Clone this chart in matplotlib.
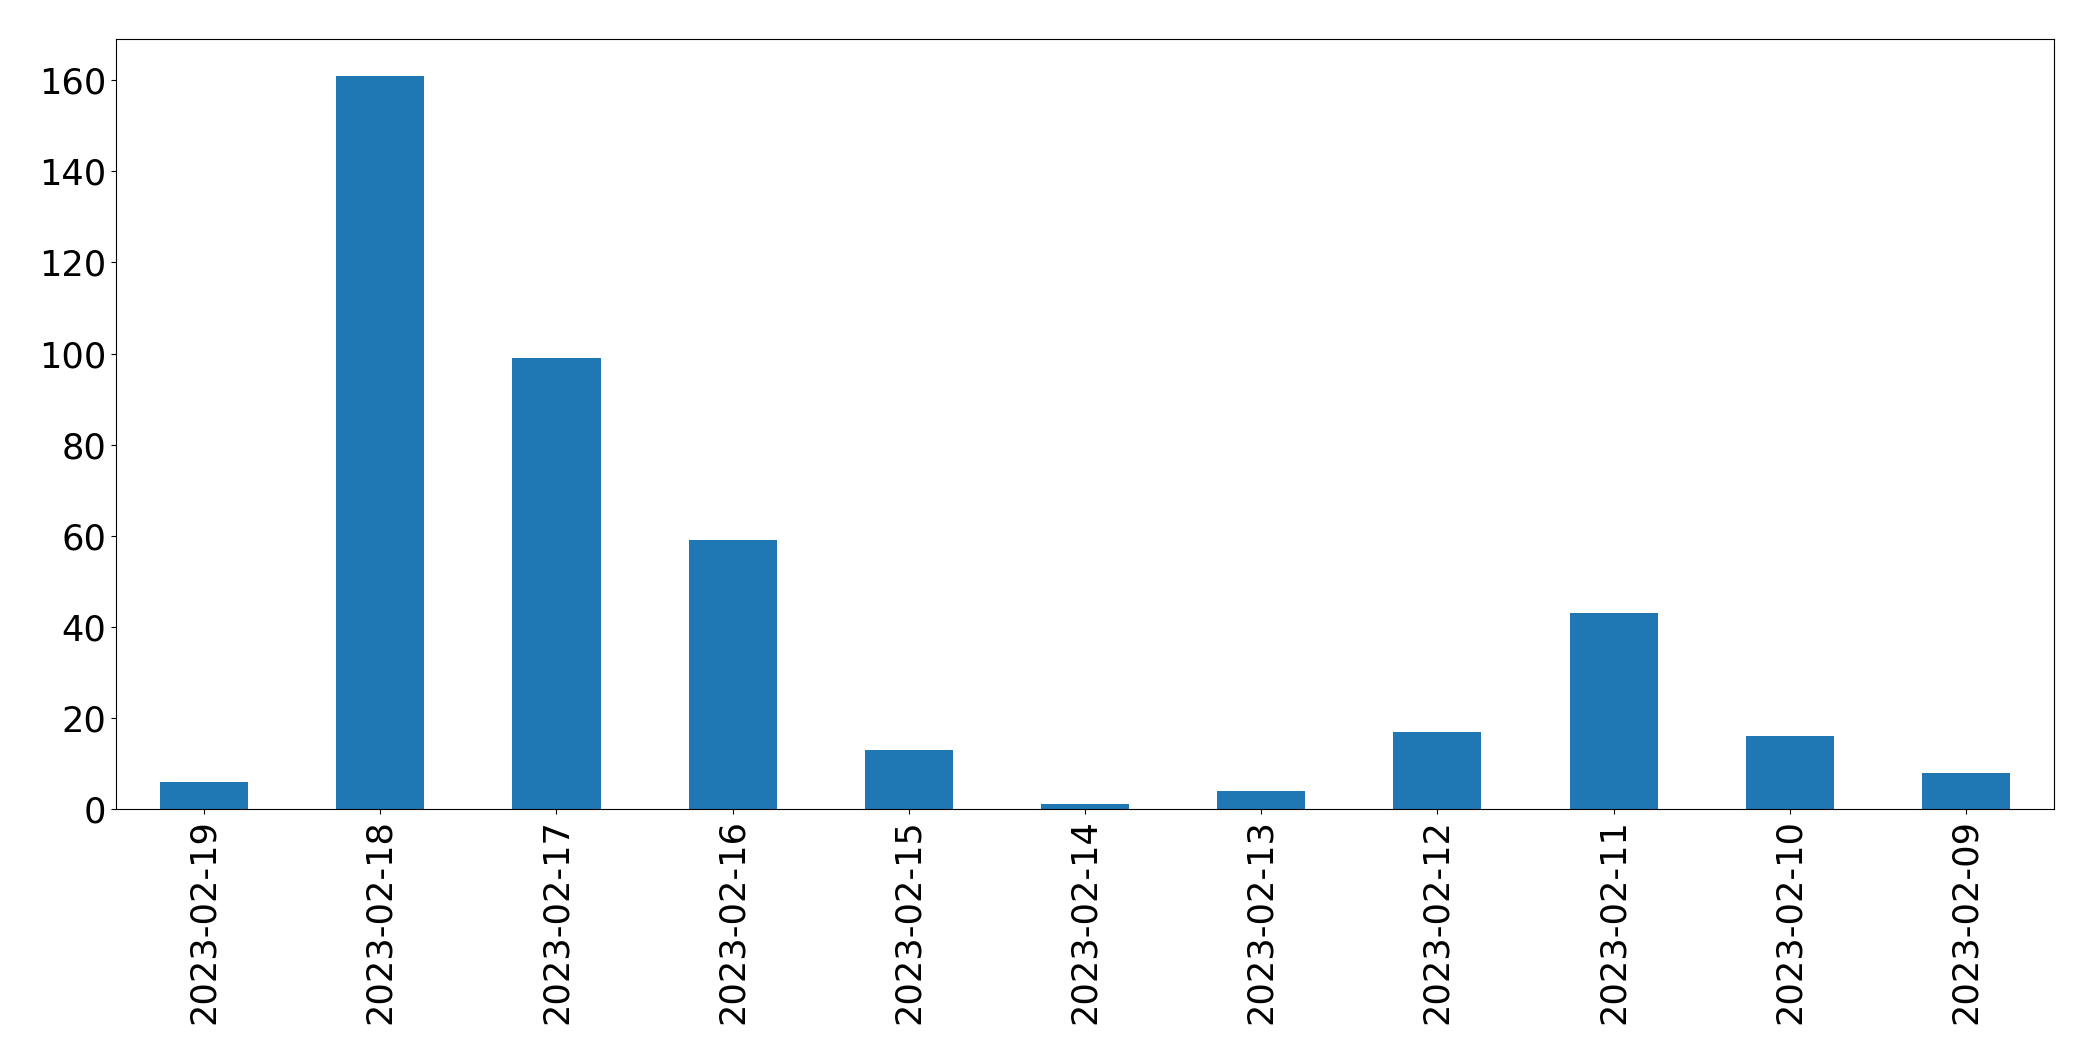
import matplotlib
matplotlib.use("Agg")
import matplotlib.pyplot as plt
import pandas as pd

DATES = ["2023-02-19", "2023-02-18", "2023-02-17", "2023-02-16", "2023-02-15",
         "2023-02-14", "2023-02-13", "2023-02-12", "2023-02-11", "2023-02-10",
         "2023-02-09"]
COUNTS = [6, 161, 99, 59, 13, 1, 4, 17, 43, 16, 8]


def main():
    s = pd.Series(COUNTS, index=DATES)

    fig, ax = plt.subplots(figsize=(20.93, 10.61), dpi=100)
    fig.subplots_adjust(left=116 / 2093, right=2054 / 2093,
                        top=1 - 39 / 1061, bottom=1 - 809 / 1061)

    s.plot(kind="bar", ax=ax, color="#1f77b4")
    ax.tick_params(axis="both", labelsize=25.3)

    fig.savefig("out.png", dpi=100)
    plt.close(fig)


if __name__ == "__main__":
    main()
